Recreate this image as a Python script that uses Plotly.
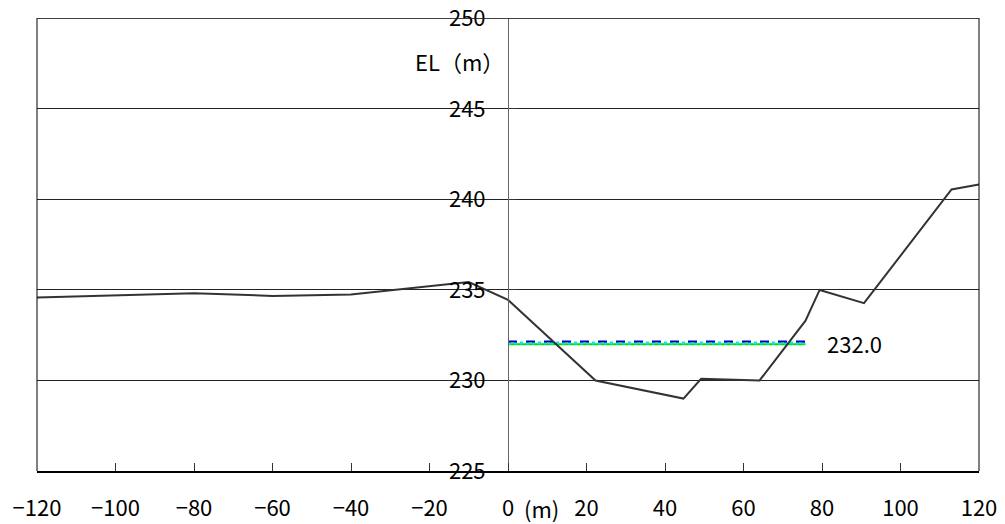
import plotly.graph_objects as go

# Ground profile (distance m, elevation m)
ground_x = [-120, -80, -60, -40, -10, 0, 22.3, 44.7, 49.2, 64.1, 75.8, 79.4, 90.7, 113.0, 120]
ground_y = [234.58, 234.82, 234.67, 234.75, 235.44, 234.45, 230.0, 229.0, 230.09, 230.0, 233.3, 235.0, 234.27, 240.55, 240.82]

# Water level lines
water_x = [0, 75.8]
water_green = [232.0, 232.0]
water_cyan = [232.07, 232.07]
water_blue = [232.15, 232.15]
water_label = "232.0"

x_tickvals = [-120, -100, -80, -60, -40, -20, 0, 20, 40, 60, 80, 100, 120]
x_ticktext = ["−120", "−100", "−80", "−60", "−40", "−20", "0", "20", "40", "60", "80", "100", "120"]
y_tickvals = [225, 230, 235, 240, 245, 250]

FONT = "Noto Sans CJK JP"
FS = 22

fig = go.Figure()
fig.add_trace(go.Scatter(x=water_x, y=water_green, mode="lines",
                         line=dict(color="#00e000", width=2), hoverinfo="skip"))
fig.add_trace(go.Scatter(x=water_x, y=water_cyan, mode="lines",
                         line=dict(color="#00e8f0", width=3, dash="dot"), hoverinfo="skip"))
fig.add_trace(go.Scatter(x=water_x, y=water_blue, mode="lines",
                         line=dict(color="#0000c8", width=2, dash="dash"), hoverinfo="skip"))
fig.add_trace(go.Scatter(x=ground_x, y=ground_y, mode="lines",
                         line=dict(color="#333333", width=2)))

fig.add_annotation(x=80.8, y=232.05, text=water_label, showarrow=False,
                   xanchor="left", yanchor="middle",
                   font=dict(family=FONT, size=FS, color="black"))
fig.add_annotation(x=-0.5, y=247.65, text="EL（m）", showarrow=False,
                   xanchor="right", yanchor="middle",
                   font=dict(family=FONT, size=FS, color="black"))
fig.add_annotation(x=3.6, y=0, yref="paper", yshift=-37, text="(m)", showarrow=False,
                   xanchor="left", yanchor="middle",
                   font=dict(family=FONT, size=FS, color="black"))

# frame left/right and top
fig.add_shape(type="line", xref="paper", yref="paper", x0=0, x1=0, y0=0, y1=1,
              line=dict(color="black", width=1))
fig.add_shape(type="line", xref="paper", yref="paper", x0=1, x1=1, y0=0, y1=1,
              line=dict(color="black", width=1))
fig.add_shape(type="line", xref="paper", yref="y", x0=0, x1=1, y0=250, y1=250,
              line=dict(color="#222222", width=1))

fig.update_layout(
    width=1005, height=524,
    margin=dict(l=37, r=26, t=18, b=53, autoexpand=False),
    plot_bgcolor="white", paper_bgcolor="white",
    showlegend=False,
    font=dict(family=FONT, size=FS, color="black"),
    xaxis=dict(range=[-120, 120], tickvals=x_tickvals, ticktext=x_ticktext,
               automargin=False,
               showgrid=False, zeroline=False, showline=True, linecolor="black", linewidth=1.5,
               ticks="inside", ticklen=8, tickcolor="#333333", tickwidth=1,
               ticklabelstandoff=17, tickfont=dict(family=FONT, size=FS, color="black")),
    yaxis=dict(range=[225, 250.02], tickvals=y_tickvals, anchor="free", position=0.5,
               automargin=False, ticklabeloverflow="allow",
               showgrid=True, gridcolor="#222222", gridwidth=1, zeroline=False,
               showline=True, linecolor="#666666", linewidth=1,
               ticks="inside", ticklen=8, tickcolor="#333333",
               ticklabelstandoff=18, tickfont=dict(family=FONT, size=FS, color="black")),
)

fig.write_html("out.html", config={"displayModeBar": False},
               post_script="document.body.style.margin='0';document.body.style.overflow='hidden';")
